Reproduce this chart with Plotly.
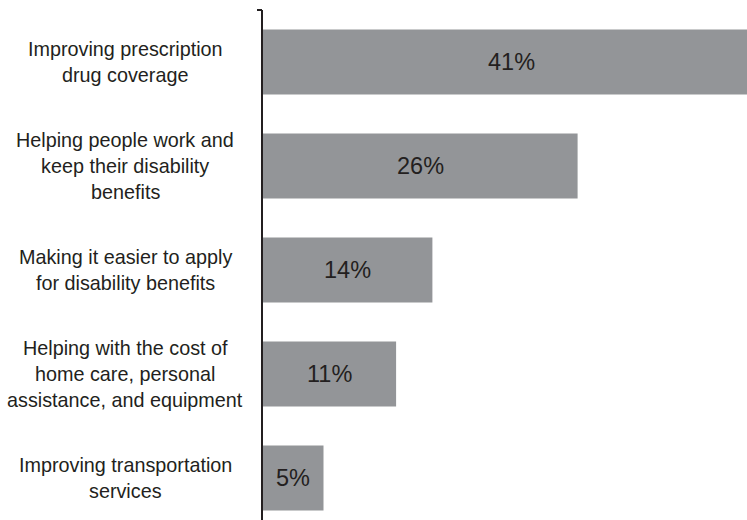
import plotly.graph_objects as go

# Survey responses: share choosing each option
categories = [
    "Improving prescription<br>drug coverage",
    "Helping people work and<br>keep their disability<br>benefits",
    "Making it easier to apply<br>for disability benefits",
    "Helping with the cost of<br>home care, personal<br>assistance, and equipment",
    "Improving transportation<br>services",
]
values = [41, 26, 14, 11, 5]
value_labels = [f"{v}%" for v in values]

BAR_COLOR = "#939598"
INK = "#231f20"
FONT = "Liberation Sans, Arial, sans-serif"

W, H = 747, 520
M_L, M_T = 263, 10
plot_w = W - M_L
plot_h = H - M_T
pitch = 104  # pixels per category row
line_step = 26  # pixels between label lines

fig = go.Figure(
    go.Bar(
        x=values,
        y=categories,
        orientation="h",
        marker=dict(color=BAR_COLOR, line=dict(width=0)),
        hoverinfo="skip",
    )
)

annotations = []
# value labels centred on each bar
for cat, v, lab in zip(categories, values, value_labels):
    annotations.append(
        dict(
            x=v / 2, y=cat, xref="x", yref="y",
            text=lab, showarrow=False,
            xanchor="center", yanchor="middle",
            font=dict(family=FONT, size=23.5, color=INK),
        )
    )
# centred category labels to the left of the axis, one annotation per line
label_center_px = 125
for cat in categories:
    lines = cat.split("<br>")
    n = len(lines)
    for j, line in enumerate(lines):
        annotations.append(
            dict(
                x=(label_center_px - M_L) / plot_w, y=cat,
                xref="paper", yref="y",
                text=line, showarrow=False, align="center",
                xanchor="center", yanchor="middle",
                yshift=((n - 1) / 2 - j) * line_step,
                font=dict(family=FONT, size=19.8, color=INK),
            )
        )

fig.update_layout(
    width=W, height=H,
    margin=dict(l=M_L, r=0, t=M_T, b=0, pad=0),
    paper_bgcolor="white", plot_bgcolor="white",
    bargap=1 - 65 / pitch,
    showlegend=False,
    annotations=annotations,
    xaxis=dict(
        range=[0, 40], visible=False, fixedrange=True,
    ),
    yaxis=dict(
        categoryorder="array", categoryarray=categories,
        range=[-0.5 + plot_h / pitch, -0.5],
        showticklabels=False, ticks="", showgrid=False, zeroline=False,
        showline=True, linecolor=INK, linewidth=2, fixedrange=True,
    ),
    shapes=[
        # small cap at the top of the axis line
        dict(
            type="line", xref="paper", yref="paper",
            xsizemode="pixel", xanchor=0, x0=-6, x1=-1, y0=1, y1=1,
            line=dict(color=INK, width=2),
        )
    ],
)

fig.write_html("out.html", config={"displayModeBar": False})
